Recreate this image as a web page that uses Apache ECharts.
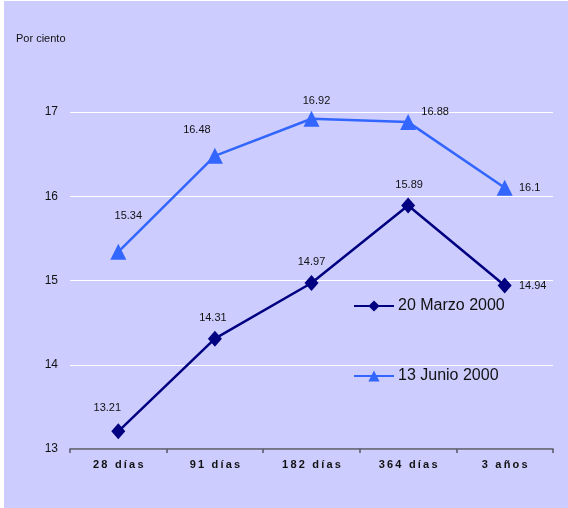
<!DOCTYPE html>
<html>
<head>
<meta charset="utf-8">
<script src="https://cdn.jsdelivr.net/npm/echarts@6/dist/echarts.min.js"></script>
<style>
  html, body { margin: 0; padding: 0; background: #ffffff; }
  #chart { width: 568px; height: 508px; }
</style>
</head>
<body>
<div id="chart"></div>
<script>
// Plazos de los instrumentos
const plazos = ['28 días', '91 días', '182 días', '364 días', '3 años'];

// Tasas (por ciento) en cada fecha
const marzo2000 = [13.21, 14.31, 14.97, 15.89, 14.94];
const junio2000 = [15.34, 16.48, 16.92, 16.88, 16.1];

const nombreMarzo = '20 Marzo 2000';
const nombreJunio = '13 Junio 2000';

// Eje vertical
const yMin = 13;
const yMax = 17;
const yPaso = 1;

// Desplazamiento de cada etiqueta de valor respecto a su punto [dx, dy]
const nudgeMarzo = [[-11, -23], [-2, -21], [0, -21], [1, -21], [28, 0]];
const nudgeJunio = [[10, -36], [-18, -26], [5, -18], [27, -10], [25, 0]];

const labelFont = { fontFamily: 'Liberation Sans, Arial, sans-serif', fontSize: 11, color: '#111' };

function withLabels(values, nudges) {
  return values.map((v, i) => ({
    value: v,
    label: {
      show: true,
      position: 'inside',
      offset: nudges[i],
      ...labelFont
    }
  }));
}

// Separación entre letras de las etiquetas del eje de categorías
const spaced = s => Array.from(s).join('\u2009');

const chart = echarts.init(document.getElementById('chart'), null, { renderer: 'canvas' });

chart.setOption({
  animation: false,
  backgroundColor: '#ffffff',
  graphic: [{
    type: 'rect',
    z: -10,
    silent: true,
    shape: { x: 4, y: 1, width: 564, height: 507 },
    style: { fill: '#ccccff' }
  }],
  title: {
    text: 'Por ciento',
    left: 11,
    top: 28,
    textStyle: { fontFamily: 'Liberation Sans, Arial, sans-serif', fontSize: 11, fontWeight: 'normal', color: '#111' }
  },
  grid: { left: 70, right: 15, top: 112, bottom: 59, containLabel: false },
  xAxis: {
    type: 'category',
    data: plazos,
    boundaryGap: true,
    axisLine: { show: true, lineStyle: { color: '#555566', width: 1.5 } },
    axisTick: { show: true, inside: false, length: 4, alignWithLabel: false, lineStyle: { color: '#555566', width: 1.5 } },
    axisLabel: {
      margin: 10,
      fontFamily: 'Liberation Sans, Arial, sans-serif',
      fontSize: 11,
      fontWeight: 'bold',
      color: '#111',
      formatter: spaced
    },
    splitLine: { show: false }
  },
  yAxis: {
    type: 'value',
    min: yMin,
    max: yMax,
    interval: yPaso,
    axisLine: { show: false },
    axisTick: { show: false },
    axisLabel: {
      margin: 12,
      fontFamily: 'Liberation Sans, Arial, sans-serif',
      fontSize: 12,
      color: '#111'
    },
    splitLine: { show: true, lineStyle: { color: '#ffffff', width: 1 } }
  },
  legend: {
    orient: 'vertical',
    left: 348,
    top: 293,
    itemWidth: 40,
    itemHeight: 14,
    itemGap: 54,
    data: [nombreMarzo, nombreJunio],
    textStyle: {
      fontFamily: 'Liberation Sans Narrow, Arial Narrow, Liberation Sans, Arial, sans-serif',
      fontSize: 16,
      color: '#111',
      padding: [0, 0, 0, -1]
    }
  },
  series: [
    {
      name: nombreMarzo,
      type: 'line',
      data: withLabels(marzo2000, nudgeMarzo),
      symbol: 'diamond',
      symbolSize: [14, 16],
      lineStyle: { color: '#000080', width: 2.5 },
      itemStyle: { color: '#000080' },
      z: 3
    },
    {
      name: nombreJunio,
      type: 'line',
      data: withLabels(junio2000, nudgeJunio),
      symbol: 'triangle',
      symbolSize: 16,
      lineStyle: { color: '#3366ff', width: 2.5 },
      itemStyle: { color: '#3366ff' },
      z: 3
    }
  ]
});
</script>
</body>
</html>
